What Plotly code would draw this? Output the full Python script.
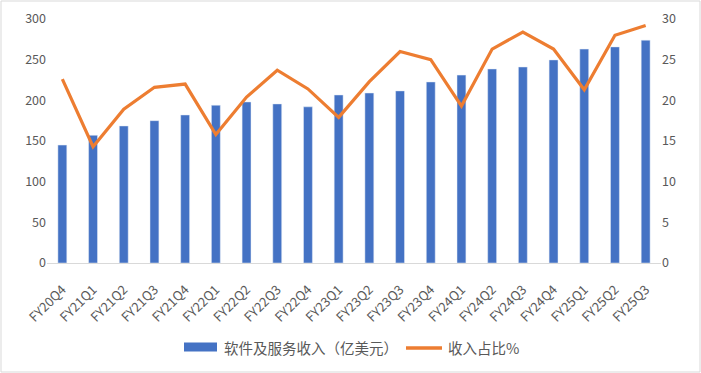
import plotly.graph_objects as go

categories = ["FY20Q4", "FY21Q1", "FY21Q2", "FY21Q3", "FY21Q4", "FY22Q1", "FY22Q2",
              "FY22Q3", "FY22Q4", "FY23Q1", "FY23Q2", "FY23Q3", "FY23Q4", "FY24Q1",
              "FY24Q2", "FY24Q3", "FY24Q4", "FY25Q1", "FY25Q2", "FY25Q3"]
revenue = [145, 157, 168.5, 175, 182, 194, 198, 195.6, 192, 206.6,
           209, 211.6, 222.6, 231, 238.6, 241, 249.7, 263, 265.7, 274]
share = [22.6, 14.3, 18.9, 21.6, 22.0, 15.8, 20.4, 23.7, 21.4, 17.9,
         22.3, 26.0, 25.0, 19.3, 26.3, 28.4, 26.3, 21.3, 28.0, 29.2]
bar_name = "软件及服务收入（亿美元）"
line_name = "收入占比%"

font_family = "Noto Sans CJK SC, Microsoft YaHei, sans-serif"
gray = "#595959"
blue = "#4472C4"
orange = "#ED7D31"

# plot area geometry (pixels)
L, R, T, B = 47, 40, 19, 110
W, H = 701, 373
pw, ph = W - L - R, H - T - B


def px(x):
    return (x - L) / pw


def py(y):
    return (H - B - y) / ph


fig = go.Figure()
fig.add_trace(go.Bar(x=categories, y=revenue, name=bar_name,
                     marker_color=blue, width=0.29, yaxis="y"))
fig.add_trace(go.Scatter(x=categories, y=share, name=line_name, mode="lines",
                         line=dict(color=orange, width=3.2), yaxis="y2"))

legend_y = 347
shapes = [
    dict(type="rect", xref="paper", yref="paper",
         x0=px(1), x1=px(W - 1), y0=py(H - 1), y1=py(1),
         line=dict(color="#D9D9D9", width=1), fillcolor="rgba(0,0,0,0)"),
    dict(type="rect", xref="paper", yref="paper",
         x0=px(184), x1=px(217), y0=py(legend_y + 4.5), y1=py(legend_y - 4.5),
         line=dict(width=0), fillcolor=blue),
    dict(type="line", xref="paper", yref="paper",
         x0=px(406), x1=px(442), y0=py(legend_y + 1), y1=py(legend_y + 1),
         line=dict(color=orange, width=3.5)),
]
annotations = [
    dict(text=bar_name, xref="paper", yref="paper", x=px(222), y=py(legend_y),
         xanchor="left", yanchor="middle", showarrow=False,
         font=dict(size=14.5, color=gray, family=font_family)),
    dict(text=line_name, xref="paper", yref="paper", x=px(446), y=py(legend_y),
         xanchor="left", yanchor="middle", showarrow=False,
         font=dict(size=14.5, color=gray, family=font_family)),
]

fig.update_layout(
    width=W, height=H,
    margin=dict(l=L, r=R, t=T, b=B),
    paper_bgcolor="white", plot_bgcolor="white",
    font=dict(family=font_family, size=12, color=gray),
    showlegend=False,
    xaxis=dict(tickangle=-45, showgrid=False, showline=True, linecolor="#D9D9D9",
               linewidth=1, ticks="outside", ticklen=13, tickcolor="rgba(0,0,0,0)",
               automargin=False, tickfont=dict(size=13, color=gray)),
    yaxis=dict(range=[0, 300], dtick=50, showgrid=False, zeroline=False,
               showline=False, ticks="", automargin=False,
               tickfont=dict(size=12.5, color=gray)),
    yaxis2=dict(range=[0, 30], dtick=5, overlaying="y", side="right", showgrid=False,
                zeroline=False, showline=False, ticks="", automargin=False,
                tickfont=dict(size=12.5, color=gray)),
    shapes=shapes,
    annotations=annotations,
)

fig.write_html("out.html", config={"displayModeBar": False},
               post_script="document.body.style.margin='0';document.body.style.overflow='hidden';")
